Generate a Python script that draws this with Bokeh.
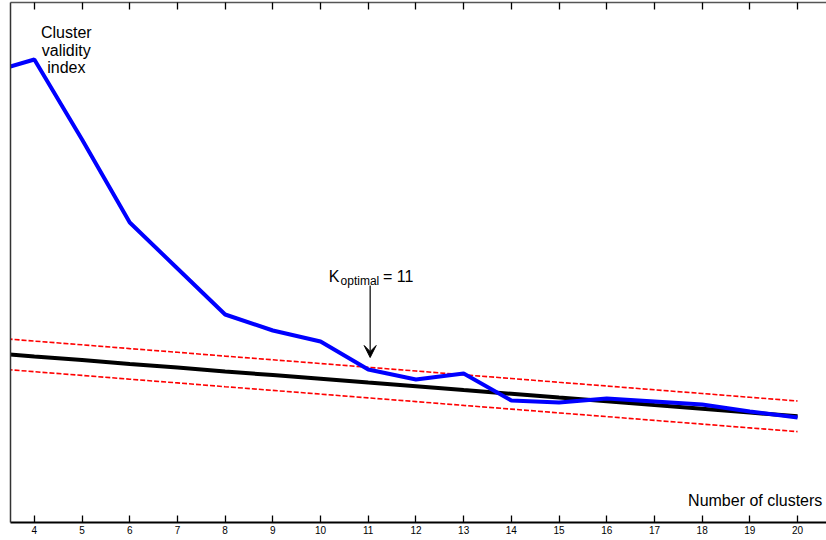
from bokeh.plotting import figure
from bokeh.models import Range1d, FixedTicker, LinearAxis, Label, Arrow, VeeHead, ColumnDataSource
from bokeh.embed import file_html
from bokeh.resources import INLINE

# ---- data (arbitrary index units) ----
clusters = [3, 4, 5, 6, 7, 8, 9, 10, 11, 12, 13, 14, 15, 16, 17, 18, 19, 20]
validity = [449, 463, 383, 300, 254, 208, 192, 181, 153, 143, 149, 122, 120, 124, 121, 118, 111, 105]
fit_line = [169.9, 166.1, 162.4, 158.6, 154.9, 151.1, 147.4, 143.7, 139.9, 136.2,
            132.4, 128.7, 124.9, 121.2, 117.4, 113.7, 109.9, 106.2]
upper_bound = [185.2, 181.4, 177.7, 173.9, 170.2, 166.4, 162.7, 159.0, 155.2, 151.5,
               147.7, 144.0, 140.2, 136.5, 132.7, 129.0, 125.2, 121.5]
lower_bound = [154.6, 150.8, 147.1, 143.3, 139.6, 135.8, 132.1, 128.4, 124.6, 120.9,
               117.1, 113.4, 109.6, 105.9, 102.1, 98.4, 94.6, 90.9]
tick_values = [4, 5, 6, 7, 8, 9, 10, 11, 12, 13, 14, 15, 16, 17, 18, 19, 20]
tick_labels = [str(t) for t in tick_values]
k_optimal = 11

FONT = "Liberation Sans"

src = ColumnDataSource(dict(k=clusters, v=validity, fit=fit_line, up=upper_bound, lo=lower_bound))

p = figure(width=826, height=540, output_backend="svg", toolbar_location=None,
           x_range=Range1d(3.5, 20.607), y_range=Range1d(0, 520),
           x_axis_location=None, y_axis_location=None,
           min_border_left=10, min_border_right=0, min_border_top=2, min_border_bottom=18,
           background_fill_color="white", border_fill_color="white")
p.outline_line_color = None
p.xgrid.visible = False
p.ygrid.visible = False

# bottom axis
xa = LinearAxis(ticker=FixedTicker(ticks=tick_values),
                major_label_overrides={t: l for t, l in zip(tick_values, tick_labels)})
xa.major_tick_in = 7
xa.major_tick_out = 0
xa.minor_tick_line_color = None
xa.axis_line_width = 2
xa.axis_line_color = "black"
xa.major_tick_line_color = "black"
xa.major_tick_line_width = 1.3
xa.major_label_text_font = FONT
xa.major_label_text_font_size = "10px"
xa.major_label_text_color = "black"
xa.major_label_standoff = 3
p.add_layout(xa, "below")

# top axis (ticks only)
ta = LinearAxis(ticker=FixedTicker(ticks=tick_values))
ta.major_tick_in = 7
ta.major_tick_out = 0
ta.minor_tick_line_color = None
ta.axis_line_width = 1.5
ta.axis_line_color = "#555555"
ta.major_tick_line_color = "black"
ta.major_tick_line_width = 1.3
ta.major_label_text_font_size = "0px"
ta.major_label_text_color = None
ta.major_label_standoff = 0
p.add_layout(ta, "above")

# left axis (line only)
la = LinearAxis(ticker=FixedTicker(ticks=[]))
la.major_tick_line_color = None
la.minor_tick_line_color = None
la.axis_line_width = 1.5
la.axis_line_color = "#333333"
la.major_label_text_font_size = "0px"
la.major_label_text_color = None
la.major_label_standoff = 0
p.add_layout(la, "left")

# bounds and fit
p.line("k", "up", source=src, line_color="#FF0000", line_width=1.6, line_dash="5 2")
p.line("k", "lo", source=src, line_color="#FF0000", line_width=1.6, line_dash="5 2")
p.line("k", "fit", source=src, line_color="black", line_width=4)
p.line("k", "v", source=src, line_color="#0000FF", line_width=4)

# texts
for txt, yy in [("Cluster", 490.3), ("validity", 472.5), ("index", 455.5)]:
    p.add_layout(Label(x=4.67, y=yy, text=txt, text_font=FONT, text_font_size="16px",
                       text_align="center", text_baseline="alphabetic", text_color="black"))

p.add_layout(Label(x=20.52, y=22, text="Number of clusters", text_font=FONT, text_font_size="16px",
                   text_align="right", text_baseline="alphabetic", text_color="black"))

p.add_layout(Label(x=10.17, y=246, text="K", text_font=FONT, text_font_size="16px",
                   text_align="left", text_baseline="alphabetic", text_color="black"))
p.add_layout(Label(x=10.42, y=241.5, text="optimal", text_font=FONT, text_font_size="12px",
                   text_align="left", text_baseline="alphabetic", text_color="black"))
p.add_layout(Label(x=11.31, y=246, text="= " + str(k_optimal), text_font=FONT, text_font_size="16px",
                   text_align="left", text_baseline="alphabetic", text_color="black"))

p.add_layout(Arrow(x_start=k_optimal + 0.04, y_start=237, x_end=k_optimal + 0.04, y_end=165,
                   line_color="black", line_width=1.2,
                   end=VeeHead(size=12, fill_color="black", line_color="black", line_width=1)))

open("out.html", "w").write(file_html(p, INLINE))
